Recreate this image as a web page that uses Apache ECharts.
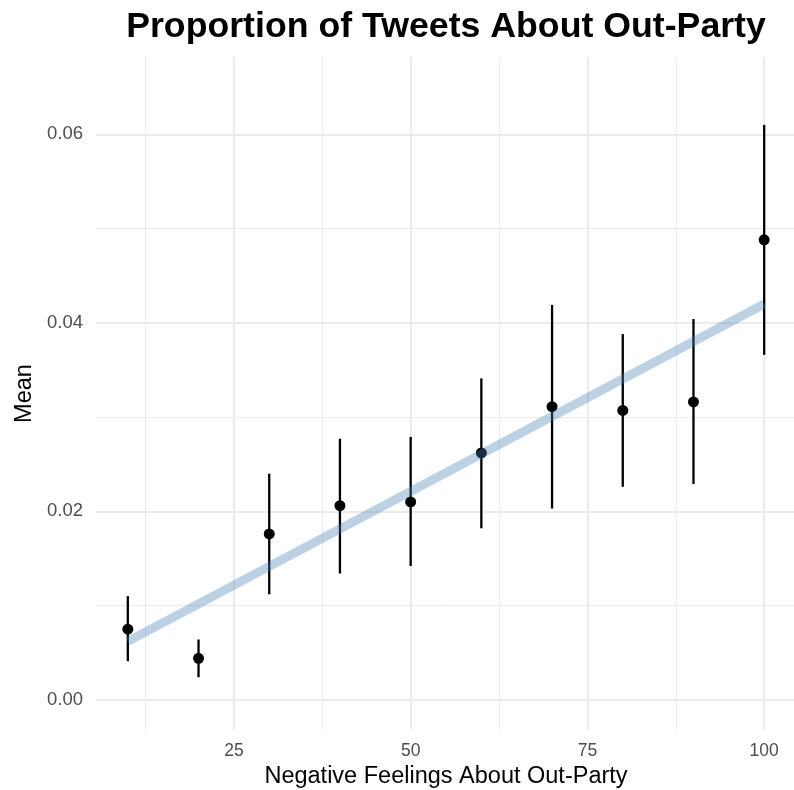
<!DOCTYPE html>
<html>
<head>
<meta charset="utf-8">
<script src="https://cdn.jsdelivr.net/npm/echarts@6/dist/echarts.min.js"></script>
<style>
  html, body { margin: 0; padding: 0; background: #ffffff; }
  #chart { width: 794px; height: 790px; }
</style>
</head>
<body>
<div id="chart"></div>
<script>
// Feeling-thermometer bins (negative feelings toward the out-party)
const feelingBins = [10, 20, 30, 40, 50, 60, 70, 80, 90, 100];
// Mean proportion of tweets about the out-party, with interval bounds
const meanValues = [0.0075, 0.0044, 0.0176, 0.0206, 0.0210, 0.0262, 0.0311, 0.0307, 0.0316, 0.0488];
const lowerValues = [0.0041, 0.0024, 0.0112, 0.0134, 0.0142, 0.0182, 0.0203, 0.0226, 0.0229, 0.0366];
const upperValues = [0.0110, 0.0064, 0.0240, 0.0277, 0.0279, 0.0341, 0.0419, 0.0388, 0.0404, 0.0610];
// Linear fit endpoints
const fitX = [10, 100];
const fitY = [0.0062, 0.0420];
// Axis breaks
const xMajorTicks = [25, 50, 75, 100];
const xMinorTicks = [12.5, 37.5, 62.5, 87.5];
const yMajorTicks = [0, 0.02, 0.04, 0.06];
const yMinorTicks = [0.01, 0.03, 0.05];
const xRange = [5.5, 104.5];
const yRange = [-0.0032, 0.0682];

const FONT = '"Liberation Sans", Arial, Helvetica, sans-serif';
const GRID_COLOR = '#ebebeb';

const chart = echarts.init(document.getElementById('chart'), null, { renderer: 'canvas' });

const gridLines = []
  .concat(xMinorTicks.map(v => ({ xAxis: v, lineStyle: { width: 1 } })))
  .concat(yMinorTicks.map(v => ({ yAxis: v, lineStyle: { width: 1 } })))
  .concat(xMajorTicks.map(v => ({ xAxis: v, lineStyle: { width: 2 } })))
  .concat(yMajorTicks.map(v => ({ yAxis: v, lineStyle: { width: 2 } })));

chart.setOption({
  animation: false,
  backgroundColor: '#ffffff',
  title: {
    text: 'Proportion of Tweets About Out-Party',
    left: 441,
    textAlign: 'center',
    top: 4,
    textStyle: { fontFamily: FONT, fontSize: 35.7, fontWeight: 'bold', color: '#000000' }
  },
  grid: { left: 96, right: -2, top: 57, bottom: 60, containLabel: false, outerBoundsMode: 'none' },
  xAxis: {
    type: 'value',
    min: xRange[0],
    max: xRange[1],
    name: 'Negative Feelings About Out-Party',
    nameLocation: 'middle',
    nameGap: 33,
    nameTextStyle: { fontFamily: FONT, fontSize: 23.5, color: '#000000', verticalAlign: 'top' },
    axisLine: { show: false },
    axisTick: { show: false },
    splitLine: { show: false },
    axisLabel: {
      customValues: xMajorTicks,
      margin: 12,
      fontFamily: FONT, fontSize: 17.5, color: '#4d4d4d'
    }
  },
  yAxis: {
    type: 'value',
    min: yRange[0],
    max: yRange[1],
    name: 'Mean',
    nameLocation: 'middle',
    nameGap: 58,
    nameRotate: 90,
    nameTextStyle: { fontFamily: FONT, fontSize: 23.5, color: '#000000' },
    axisLine: { show: false },
    axisTick: { show: false },
    splitLine: { show: false },
    axisLabel: {
      customValues: yMajorTicks,
      margin: 13,
      formatter: v => v.toFixed(2),
      fontFamily: FONT, fontSize: 18.5, color: '#4d4d4d'
    }
  },
  series: [
    {
      // panel grid lines
      type: 'line',
      data: [],
      silent: true,
      z: 0,
      markLine: {
        z: 0,
        silent: true,
        symbol: 'none',
        label: { show: false },
        animation: false,
        lineStyle: { color: GRID_COLOR, type: 'solid' },
        emphasis: { disabled: true },
        data: gridLines
      }
    },
    {
      // vertical interval bars
      type: 'custom',
      z: 10,
      data: feelingBins.map((x, i) => [x, lowerValues[i], upperValues[i]]),
      renderItem: function (params, api) {
        const lo = api.coord([api.value(0), api.value(1)]);
        const hi = api.coord([api.value(0), api.value(2)]);
        return {
          type: 'line',
          shape: { x1: lo[0], y1: lo[1], x2: hi[0], y2: hi[1] },
          style: { stroke: '#000000', lineWidth: 2.3 }
        };
      }
    },
    {
      type: 'scatter',
      z: 11,
      symbol: 'circle',
      symbolSize: 11,
      itemStyle: { color: '#000000', opacity: 1 },
      data: feelingBins.map((x, i) => [x, meanValues[i]])
    },
    {
      type: 'line',
      z: 12,
      symbol: 'none',
      lineStyle: { color: 'rgba(70,130,180,0.36)', width: 9, cap: 'butt' },
      data: fitX.map((x, i) => [x, fitY[i]])
    }
  ]
});
</script>
</body>
</html>
